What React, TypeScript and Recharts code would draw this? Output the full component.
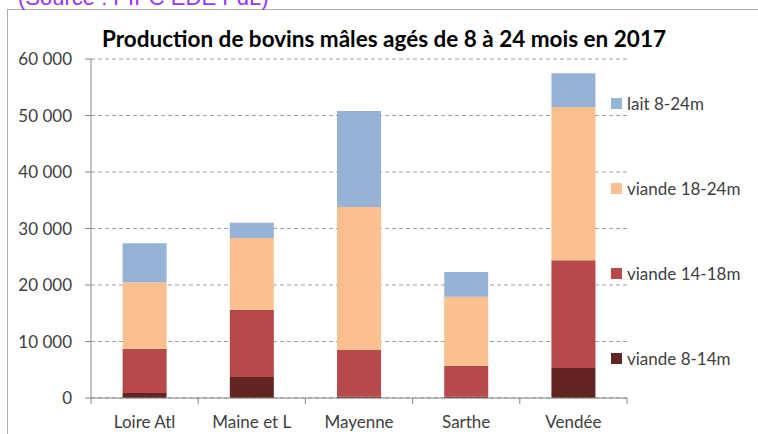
import React from "react";
import { BarChart, Bar, XAxis, YAxis, CartesianGrid } from "recharts";

const categories = ["Loire Atl", "Maine et L", "Mayenne", "Sarthe", "Vendée"];
const viande814 = [900, 3700, 200, 200, 5300];
const viande1418 = [7800, 11900, 8300, 5500, 19100];
const viande1824 = [11800, 12700, 25300, 12200, 27100];
const lait824 = [6900, 2700, 17000, 4400, 6000];
const yTicks = [0, 10000, 20000, 30000, 40000, 50000, 60000];

const seriesNames = ["viande 8-14m", "viande 14-18m", "viande 18-24m", "lait 8-24m"];
const seriesKeys = ["v814", "v1418", "v1824", "lait"];
const seriesColors = ["#632523", "#B7494A", "#FAC08F", "#95B3D7"];

const data = categories.map((c, i) => ({
  name: c,
  v814: viande814[i],
  v1418: viande1418[i],
  v1824: viande1824[i],
  lait: lait824[i],
}));

const W = 758;
const H = 434;
const M = { top: 59, right: 131, left: 0, bottom: 0 };
const Y_AXIS_W = 91;
const X_AXIS_H = 36;
const FONT = "Lato, 'Open Sans', sans-serif";
const plotWidth = W - M.left - M.right - Y_AXIS_W;
const halfBand = plotWidth / categories.length / 2;

const fmt = (v: number) => String(v).replace(/\B(?=(\d{3})+(?!\d))/g, " ");

const XTick = (props: any) => {
  const { x, y, payload, index } = props;
  const top = y - 8;
  return (
    <g>
      <line x1={x - halfBand} x2={x - halfBand} y1={top} y2={top + 6} stroke="#868686" />
      {index === categories.length - 1 && (
        <line x1={x + halfBand} x2={x + halfBand} y1={top} y2={top + 6} stroke="#868686" />
      )}
      <text x={x} y={y + 22} textAnchor="middle" fontSize={17} fontFamily={FONT} fill="#404040">
        {payload.value}
      </text>
    </g>
  );
};

const LegendBox = () => {
  const order = [3, 2, 1, 0];
  return (
    <div style={{ position: "absolute", left: 611, top: 93, width: 150, height: 300 }}>
      {order.map((s, k) => (
        <div
          key={s}
          style={{
            position: "absolute",
            left: 0,
            top: k * 85,
            height: 20,
            display: "flex",
            alignItems: "center",
            fontFamily: FONT,
            fontSize: 17,
            color: "#404040",
            whiteSpace: "nowrap",
          }}
        >
          <span style={{ display: "inline-block", width: 11, height: 11, background: seriesColors[s], marginRight: 5 }} />
          {seriesNames[s]}
        </div>
      ))}
    </div>
  );
};

export default function App() {
  return (
    <div style={{ position: "absolute", left: 0, top: 0, width: W, height: H, overflow: "hidden", background: "#fff" }}>
      <div
        style={{
          position: "absolute",
          left: 7,
          top: 9,
          width: W,
          height: H,
          borderTop: "1px solid #b0b0b0",
          borderLeft: "1px solid #b0b0b0",
        }}
      />
      <BarChart width={W} height={H} data={data} margin={M} barCategoryGap="29.5%">
        <CartesianGrid vertical={false} stroke="#a0a0a0" strokeDasharray="4 3" />
        <XAxis
          dataKey="name"
          height={X_AXIS_H}
          axisLine={{ stroke: "#868686" }}
          tickLine={false}
          tick={<XTick />}
          interval={0}
        />
        <YAxis
          width={Y_AXIS_W}
          domain={[0, 60000]}
          ticks={yTicks}
          tickFormatter={fmt}
          axisLine={{ stroke: "#868686" }}
          tickLine={{ stroke: "#868686" }}
          tickSize={6}
          tickMargin={13}
          tick={{ fontSize: 17, fontFamily: FONT, fill: "#404040" }}
        />
        {seriesKeys.map((k, i) => (
          <Bar key={k} dataKey={k} name={seriesNames[i]} stackId="a" fill={seriesColors[i]} isAnimationActive={false} />
        ))}
      </BarChart>
      <LegendBox />
      <svg width={W} height={H} style={{ position: "absolute", left: 0, top: 0, pointerEvents: "none" }}>
        <text x={18} y={5} fontSize={22} fontFamily="'Liberation Sans', Arial, sans-serif" fill="#9933FF">
          (Source : PIPC EDE PdL)
        </text>
        <text x={384} y={47} textAnchor="middle" fontSize={22.5} fontWeight="bold" fontFamily={FONT} fill="#000">
          Production de bovins mâles agés de 8 à 24 mois en 2017
        </text>
      </svg>
    </div>
  );
}
